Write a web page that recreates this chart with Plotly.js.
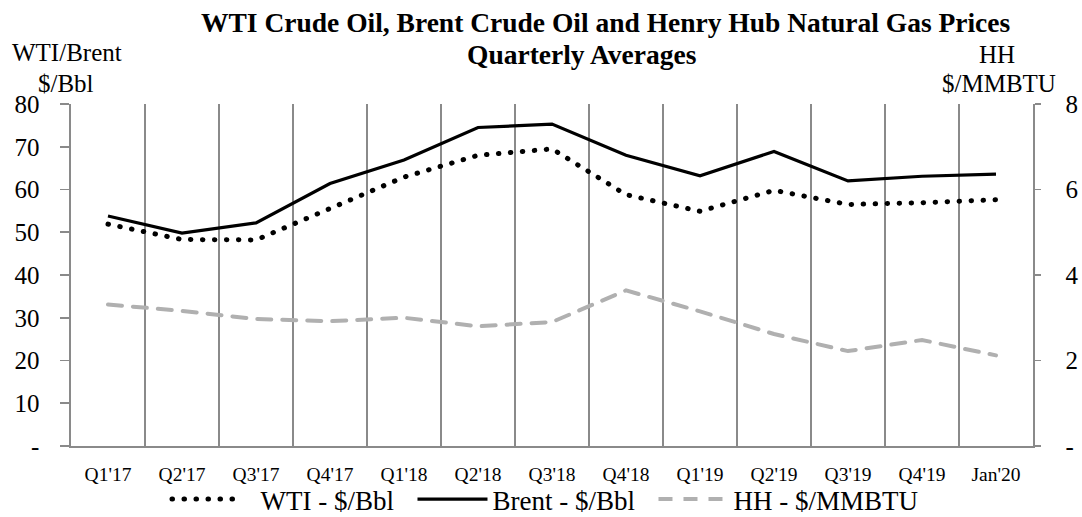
<!DOCTYPE html>
<html>
<head>
<meta charset="utf-8">
<script src="https://cdn.plot.ly/plotly-3.0.1.min.js"></script>
<style>
html,body{margin:0;padding:0;background:#fff;}
#chart{width:1082px;height:517px;}
#chart text{font-family:"Liberation Serif", serif !important;}
</style>
</head>
<body>
<div id="chart"></div>
<script>
const categories = ["Q1'17","Q2'17","Q3'17","Q4'17","Q1'18","Q2'18","Q3'18","Q4'18","Q1'19","Q2'19","Q3'19","Q4'19","Jan'20"];
const wti   = [51.9, 48.3, 48.2, 55.4, 62.9, 68.0, 69.5, 58.8, 54.9, 59.8, 56.5, 56.9, 57.6];
const brent = [53.8, 49.8, 52.2, 61.4, 66.9, 74.5, 75.3, 68.0, 63.2, 68.9, 62.0, 63.1, 63.6];
const hh    = [3.31, 3.16, 2.97, 2.92, 3.00, 2.80, 2.90, 3.64, 3.15, 2.62, 2.22, 2.48, 2.12];
const seriesNames = ["WTI - $/Bbl", "Brent - $/Bbl", "HH - $/MMBTU"];
const leftTickVals = [0,10,20,30,40,50,60,70,80];
const leftTickText = ["-","10","20","30","40","50","60","70","80"];
const rightTickVals = [0,2,4,6,8];
const rightTickText = ["-","2","4","6","8"];

const serif = "Liberation Serif, serif";
const sp = "\u00a0";
const traces = [
  {x: categories, y: wti, name: sp + sp + seriesNames[0] + sp + sp, type: "scatter", mode: "lines",
   line: {color: "#000", width: 5, dash: "0.5px,11.5px"}},
  {x: categories, y: brent, name: seriesNames[1] + sp + sp, type: "scatter", mode: "lines",
   line: {color: "#000", width: 3.2}},
  {x: categories, y: hh, name: seriesNames[2], type: "scatter", mode: "lines", yaxis: "y2",
   line: {color: "#b0b0b0", width: 4, dash: "14px,11px"}}
];
const P = (px) => (446 - px) / 342;
const X = (px) => (px - 71) / 962;
const grey = "#8a8a8a";
const layout = {
  width: 1082, height: 517,
  margin: {l: 71, r: 49, t: 104, b: 71, autoexpand: false},
  paper_bgcolor: "#fff", plot_bgcolor: "#fff",
  font: {family: serif, color: "#000"},
  showlegend: true,
  xaxis: {type: "category", range: [-0.5, 12.5], tickson: "boundaries", showgrid: true, gridcolor: grey, gridwidth: 1.6,
          showline: true, linecolor: grey, linewidth: 1.6, ticks: "outside", ticklen: 1, tickcolor: "rgba(0,0,0,0)",
          ticklabelstandoff: 10, tickfont: {family: serif, size: 19.5}, zeroline: false, automargin: false},
  yaxis: {range: [0, 80], tickvals: leftTickVals, ticktext: leftTickText, showgrid: false, zeroline: false,
          showline: true, linecolor: grey, linewidth: 1.6, ticks: "outside", ticklen: 9, tickcolor: grey,
          tickwidth: 1.6, ticklabelstandoff: 16, tickfont: {family: serif, size: 25}, automargin: false},
  yaxis2: {range: [0, 8], overlaying: "y", side: "right", tickvals: rightTickVals, ticktext: rightTickText,
           showgrid: false, zeroline: false, showline: true, linecolor: grey, linewidth: 1.6,
           ticks: "outside", ticklen: 6, tickcolor: grey, tickwidth: 1.6, ticklabelstandoff: 20,
           tickfont: {family: serif, size: 25}, automargin: false},
  legend: {orientation: "h", x: X(545), xanchor: "center", y: P(499.5), yanchor: "middle",
           font: {family: serif, size: 27}, itemwidth: 70, traceorder: "normal",
           bgcolor: "rgba(0,0,0,0)"},
  annotations: [
    {text: "<b>WTI Crude Oil, Brent Crude Oil and Henry Hub Natural Gas Prices</b>", x: X(606), y: P(22), size: 27.5},
    {text: "<b>Quarterly Averages</b>", x: X(582), y: P(54), size: 27.5},
    {text: "WTI/Brent", x: X(67), y: P(53), size: 25},
    {text: "$/Bbl", x: X(66), y: P(83), size: 25},
    {text: "HH", x: X(997), y: P(54), size: 25},
    {text: "$/MMBTU", x: X(999), y: P(83), size: 25}
  ].map(a => ({text: a.text, xref: "paper", yref: "paper", x: a.x, y: a.y, xanchor: "center", yanchor: "middle",
               showarrow: false, font: {family: serif, size: a.size, color: "#000"}}))
};
Plotly.newPlot("chart", traces, layout, {staticPlot: true, displayModeBar: false}).then(gd => {
  const paths = gd.querySelectorAll(".scatterlayer .trace:first-child path.js-line, .legend .traces:first-child path.js-line");
  paths.forEach(p => p.style.strokeLinecap = "round");
});
</script>
</body>
</html>
